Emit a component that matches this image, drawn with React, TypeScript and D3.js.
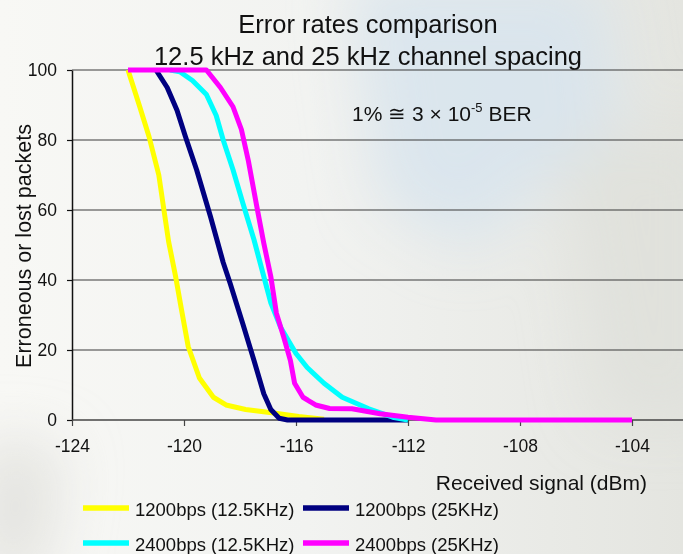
import React, { useEffect, useRef } from 'react';
import * as d3 from 'd3';

// received signal (dBm) and error rate (%) per series
const yellowX = [-122, -121.6, -121.25, -120.9, -120.68, -120.55, -120.3, -120.1, -119.85, -119.45, -118.95, -118.5, -117.8, -116.8, -115.9, -115];
const yellowY = [100, 90, 81, 70, 58, 51, 41, 32, 21, 12, 6.5, 4.3, 3, 2, 1, 0.2];

const navyX = [-121, -120.6, -120.25, -119.95, -119.55, -119.05, -118.6, -118.35, -117.9, -117.5, -117.15, -116.9, -116.6, -116.3, -112];
const navyY = [100, 95, 88.5, 81, 71.5, 58, 45, 39, 27.5, 17, 7.5, 3, 0.5, 0, 0];

const cyanX = [-120.5, -120.15, -119.7, -119.2, -118.85, -118.6, -118.25, -117.9, -117.5, -117.15, -116.9, -116.55, -116, -115.6, -115, -114.35, -113.4, -112.55, -112];
const cyanY = [100, 99.5, 97, 93, 87, 80, 71.5, 62, 51.5, 41, 33.5, 26.5, 19, 15, 10.5, 6.5, 3.2, 0.8, 0];

const magentaX = [-122, -119.2, -118.7, -118.25, -117.95, -117.7, -117.4, -117.15, -116.9, -116.7, -116.45, -116.2, -116.05, -115.75, -115.3, -114.8, -114, -113, -112, -111, -104];
const magentaY = [100, 100, 95, 89.5, 83, 74, 61, 50.5, 41, 30.5, 24, 17, 10.5, 6.5, 4.3, 3.3, 3.2, 1.8, 0.8, 0, 0];

const seriesNames = ['1200bps (12.5KHz)', '1200bps (25KHz)', '2400bps (12.5KHz)', '2400bps (25KHz)'];
const seriesColors = ['#ffff00', '#000080', '#00ffff', '#ff00ff'];

const xTicks = [-124, -120, -116, -112, -108, -104];
const yTicks = [0, 20, 40, 60, 80, 100];

const FONT = '"Liberation Sans", Arial, sans-serif';

const App = () => {
    const svgRef = useRef(null);

    useEffect(() => {
        const width = 683;
        const height = 554;
        const svg = d3.select(svgRef.current);
        svg.selectAll('*').remove();

        const x = d3.scaleLinear().domain([-124, -104]).range([72, 632]);
        const y = d3.scaleLinear().domain([0, 100]).range([420, 70]);

        // background
        const defs = svg.append('defs');
        const bg = defs.append('linearGradient').attr('id', 'bg').attr('x1', 0).attr('x2', 1).attr('y1', 0).attr('y2', 0);
        bg.append('stop').attr('offset', 0).attr('stop-color', '#f8f8f5');
        bg.append('stop').attr('offset', 0.45).attr('stop-color', '#f2f3f1');
        bg.append('stop').attr('offset', 1).attr('stop-color', '#e4e5e0');
        defs.append('filter').attr('id', 'blur').append('feGaussianBlur').attr('stdDeviation', 30);

        svg.append('rect').attr('width', width).attr('height', height).attr('fill', 'url(#bg)');
        const deco = svg.append('g').attr('filter', 'url(#blur)');
        deco.append('path')
            .attr('d', 'M350,-20 L600,-20 L620,120 L470,250 L380,200 Z')
            .attr('fill', '#d6e4ee').attr('opacity', 0.8);
        deco.append('path')
            .attr('d', 'M560,150 L720,120 L720,420 L600,420 Z')
            .attr('fill', '#dfe0db').attr('opacity', 0.8);
        deco.append('path')
            .attr('d', 'M-20,440 L60,450 L40,580 L-20,580 Z')
            .attr('fill', '#dcdcd8').attr('opacity', 0.8);

        // title
        const title = svg.append('text')
            .attr('text-anchor', 'middle')
            .attr('font-family', FONT)
            .attr('font-size', 25.5)
            .attr('fill', '#111');
        title.append('tspan').attr('x', 368).attr('y', 33).text('Error rates comparison');
        title.append('tspan').attr('x', 368).attr('y', 65).text('12.5 kHz and 25 kHz channel spacing');

        // grid
        svg.append('g')
            .selectAll('line')
            .data(yTicks.filter(d => d > 0))
            .join('line')
            .attr('x1', 72).attr('x2', width)
            .attr('y1', d => y(d)).attr('y2', d => y(d))
            .attr('stroke', '#3a3a3a')
            .attr('stroke-width', 1.2);

        // y axis
        const yAxis = svg.append('g')
            .attr('transform', 'translate(72,0)')
            .call(d3.axisLeft(y).tickValues(yTicks).tickSize(5).tickSizeOuter(0).tickPadding(10));
        yAxis.select('.domain').attr('stroke', '#111').attr('stroke-width', 1.5);
        yAxis.selectAll('line').attr('stroke', '#111').attr('stroke-width', 1.2);
        yAxis.selectAll('text')
            .attr('font-family', FONT)
            .attr('font-size', 17.5)
            .attr('fill', '#111');

        // x axis
        const xAxis = svg.append('g')
            .attr('transform', 'translate(0,420)')
            .call(d3.axisBottom(x).tickValues(xTicks).tickSize(6).tickSizeOuter(0).tickPadding(14).tickFormat(d3.format('d')));
        xAxis.select('.domain').attr('d', `M72,0H${width}`).attr('stroke', '#444').attr('stroke-width', 1.5);
        xAxis.selectAll('line').attr('stroke', '#444').attr('stroke-width', 1.2);
        xAxis.selectAll('text')
            .attr('font-family', FONT)
            .attr('font-size', 17.5)
            .attr('fill', '#111')
            .text(d => String(d).replace('-', '-'));

        // axis titles
        svg.append('text')
            .attr('transform', 'translate(31,246) rotate(-90)')
            .attr('text-anchor', 'middle')
            .attr('font-family', FONT)
            .attr('font-size', 21.5)
            .attr('fill', '#111')
            .text('Erroneous or lost packets');

        svg.append('text')
            .attr('x', 647).attr('y', 490)
            .attr('text-anchor', 'end')
            .attr('font-family', FONT)
            .attr('font-size', 21)
            .attr('fill', '#111')
            .text('Received signal (dBm)');

        // annotation
        const note = svg.append('text')
            .attr('x', 352).attr('y', 121)
            .attr('font-family', FONT)
            .attr('font-size', 21)
            .attr('fill', '#111');
        note.append('tspan').text('1% \u2245 3 \u00d7 10');
        note.append('tspan').attr('dy', -9).attr('font-size', 13).text('-5');
        note.append('tspan').attr('dy', 9).text(' BER');

        // curves
        const series = [
            { xs: yellowX, ys: yellowY },
            { xs: navyX, ys: navyY },
            { xs: cyanX, ys: cyanY },
            { xs: magentaX, ys: magentaY },
        ];
        const line = d3.line()
            .x(d => x(d[0]))
            .y(d => y(d[1]));

        svg.append('g')
            .selectAll('path')
            .data(series)
            .join('path')
            .attr('d', s => line(s.xs.map((v, i) => [v, s.ys[i]])))
            .attr('fill', 'none')
            .attr('stroke', (s, i) => seriesColors[i])
            .attr('stroke-width', 5)
            .attr('stroke-linejoin', 'round');

        // legend
        const legendPos = [
            { lx: 83, ly: 508 },
            { lx: 303, ly: 508 },
            { lx: 83, ly: 543 },
            { lx: 303, ly: 543 },
        ];
        const legend = svg.append('g')
            .selectAll('g')
            .data(seriesNames)
            .join('g')
            .attr('transform', (d, i) => `translate(${legendPos[i].lx},${legendPos[i].ly})`);
        legend.append('line')
            .attr('x1', 0).attr('x2', 46)
            .attr('stroke', (d, i) => seriesColors[i])
            .attr('stroke-width', 5.5);
        legend.append('text')
            .attr('x', 52).attr('y', 7.5)
            .attr('font-family', FONT)
            .attr('font-size', 18.5)
            .attr('fill', '#111')
            .text(d => d);
    }, []);

    return (
        <svg
            ref={svgRef}
            width={683}
            height={554}
            style={{ position: 'absolute', left: 0, top: 0, display: 'block' }}
        />
    );
};

export default App;
